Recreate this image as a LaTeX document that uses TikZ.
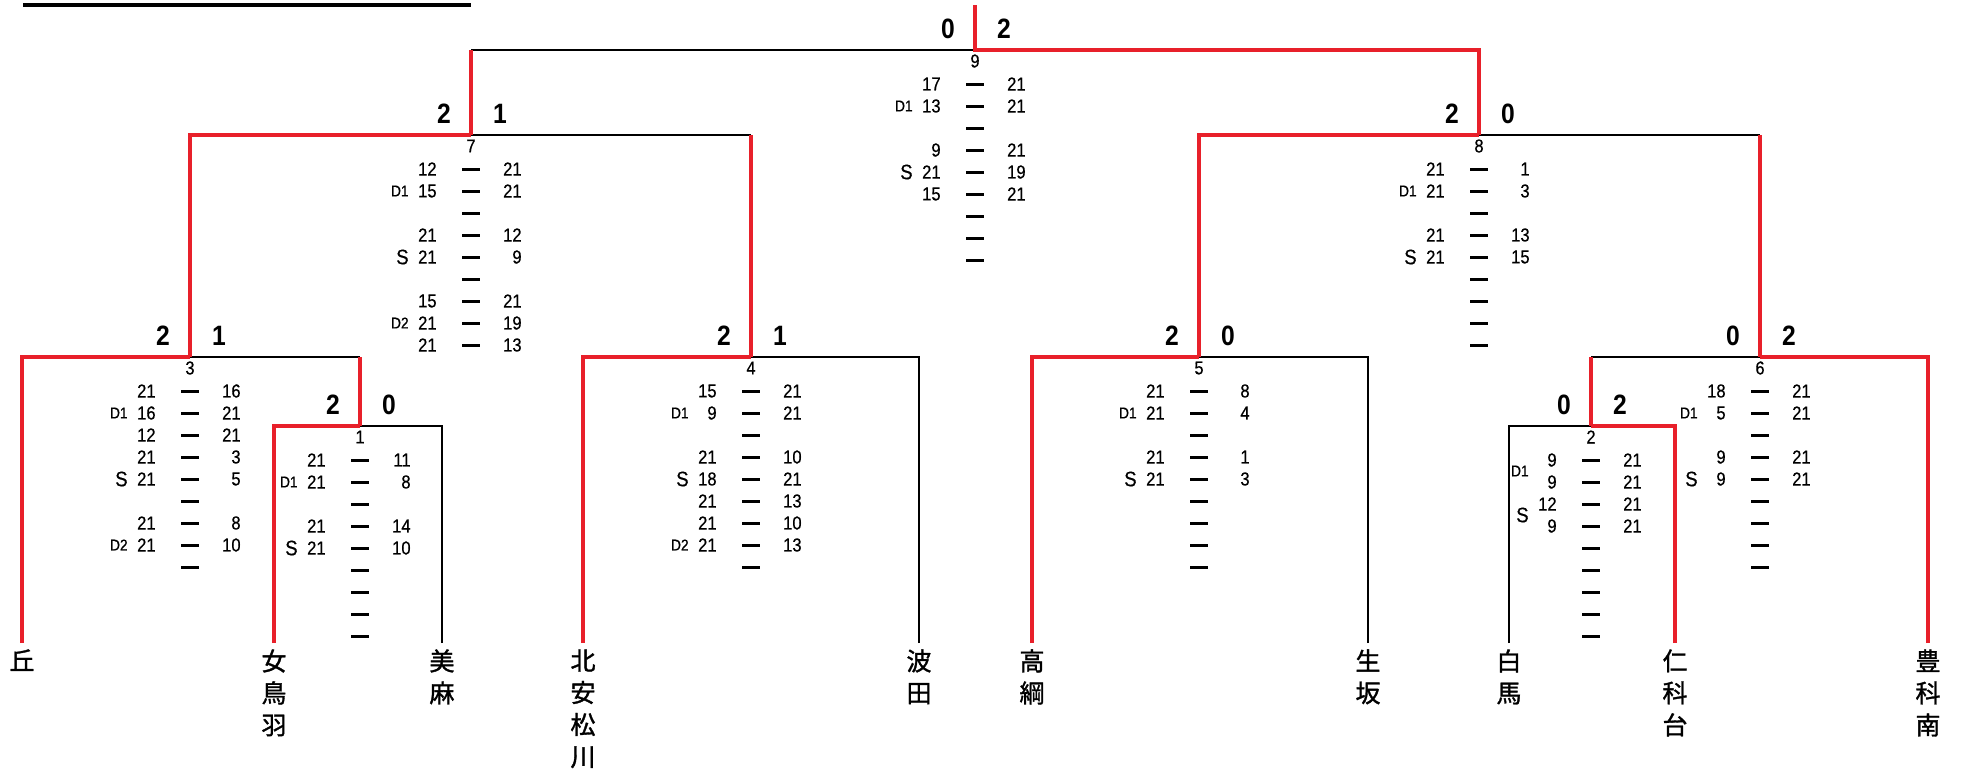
\documentclass[tikz,border=0pt]{standalone}
\usepackage{fontspec}
\setmainfont{Liberation Sans}[FakeStretch=0.88, UprightFeatures={FakeBold=0.6}]
\newfontfamily\namefont{Noto Sans CJK JP}[FakeBold=1.3]
\usetikzlibrary{calc}
\definecolor{winred}{RGB}{232,32,42}
\tikzset{
        win/.style={draw=winred, line width=1.6pt},  % winner's path
        lose/.style={draw=black, line width=0.8pt},
        rulebar/.style={draw=black, line width=1.6pt},
        team/.style={font=\namefont\fontsize{12.5}{16}\selectfont, align=center, anchor=north, inner xsep=0pt, inner ysep=3pt},
        sets/.style={font=\fontsize{14}{14}\selectfont\bfseries, inner sep=0pt},
        matchno/.style={font=\fontsize{9.3}{9.3}\selectfont, inner sep=0pt},
        pts/.style={font=\fontsize{9.4}{9.4}\selectfont, inner sep=0pt, anchor=east},
        kind/.style={inner sep=0pt, anchor=east},
        bar/.style={fill=black, inner sep=0pt, minimum width=9pt, minimum height=1.5pt}
        }
\newcommand{\dbl}[1]{{\fontsize{7.8}{7.8}\selectfont D#1}}
\newcommand{\sgl}{{\fontsize{10.5}{10.5}\selectfont S}}
% sets won left/right above a match
\newcommand{\result}[3]{%
  \node[sets] (#1w) at ($(#1)+(-27,-21)$) {#2};
  \node[sets] (#1e) at ($(#1)+(29,-21)$) {#3};}
% match number and game scores below a match
\newcommand{\games}[3]{%
  \node[matchno] (#1n) at ($(#1)+(0,11)$) {#2};
  \foreach \lab/\lft/\rgt [count=\r] in {#3}{
    \node[bar] (#1b\r) at ($(#1)+(0,12+22*\r)$) {};
    \node[pts] (#1l\r) at ($(#1b\r)+(-34,0)$) {\lft};
    \node[pts] (#1r\r) at ($(#1b\r)+(51,0)$) {\rgt};
    \node[kind] (#1k\r) at ($(#1b\r)+(-62,0)$) {\lab};
  }}

\begin{document}
\begin{tikzpicture}[x=0.5pt, y=-0.5pt]
        \useasboundingbox (0,0) rectangle (1963,776);
        \coordinate (ruleL) at (23,5);
        \coordinate (ruleR) at (471,5);
        \coordinate (top) at (975,5);
        \coordinate (m9) at (975,50);
        \coordinate (m7) at (471,135);
        \coordinate (m8) at (1479,135);
        \coordinate (m3) at (190,357);
        \coordinate (m4) at (751,357);
        \coordinate (m5) at (1199,357);
        \coordinate (m6) at (1760,357);
        \coordinate (m1) at (360,426);
        \coordinate (m2) at (1591,426);

        \node[team] (oka) at (22,643) {丘};
        \node[team] (medoba) at (274,643) {女\\鳥\\羽};
        \node[team] (omi) at (442,643) {美\\麻};
        \node[team] (kitaazumi) at (583,643) {北\\安\\松\\川};
        \node[team] (hata) at (919,643) {波\\田};
        \node[team] (takatsuna) at (1032,643) {高\\綱};
        \node[team] (ikusaka) at (1368,643) {生\\坂};
        \node[team] (hakuba) at (1509,643) {白\\馬};
        \node[team] (nishinadai) at (1675,643) {仁\\科\\台};
        \node[team] (toyoshina) at (1928,643) {豊\\科\\南};

        \draw[rulebar] (ruleL) -- (ruleR);

        % losing sides
        \draw[lose] (m9) -- (m7 |- m9);
        \draw[lose] (m7) -- (m4 |- m7);
        \draw[lose] (m8) -- (m6 |- m8);
        \draw[lose] (m3) -- (m1 |- m3);
        \draw[lose] (omi.north) |- (m1);
        \draw[lose] (hata.north) |- (m4);
        \draw[lose] (ikusaka.north) |- (m5);
        \draw[lose] (m6) -- (m2 |- m6);
        \draw[lose] (hakuba.north) |- (m2);

        % winning sides
        \draw[win] (top) -- (m9) -| (m8);
        \draw[win] (m7) -- (m7 |- m9);
        \draw[win] (m3) |- (m7);
        \draw[win] (m4) -- (m4 |- m7);
        \draw[win] (m5) |- (m8);
        \draw[win] (m6) -- (m6 |- m8);
        \draw[win] (oka.north) |- (m3);
        \draw[win] (m1) -- (m1 |- m3);
        \draw[win] (medoba.north) |- (m1);
        \draw[win] (kitaazumi.north) |- (m4);
        \draw[win] (takatsuna.north) |- (m5);
        \draw[win] (toyoshina.north) |- (m6);
        \draw[win] (m2) -- (m2 |- m6);
        \draw[win] (nishinadai.north) |- (m2);

        \result{m9}{0}{2}
        \result{m7}{2}{1}
        \result{m8}{2}{0}
        \result{m3}{2}{1}
        \result{m4}{2}{1}
        \result{m5}{2}{0}
        \result{m6}{0}{2}
        \result{m1}{2}{0}
        \result{m2}{0}{2}

        \games{m9}{9}{/17/21,\dbl1/13/21,//,/9/21,\sgl/21/19,/15/21,//,//,//}
        \games{m7}{7}{/12/21,\dbl1/15/21,//,/21/12,\sgl/21/9,//,/15/21,\dbl2/21/19,/21/13}
        \games{m8}{8}{/21/1,\dbl1/21/3,//,/21/13,\sgl/21/15,//,//,//,//}
        \games{m3}{3}{/21/16,\dbl1/16/21,/12/21,/21/3,\sgl/21/5,//,/21/8,\dbl2/21/10,//}
        \games{m4}{4}{/15/21,\dbl1/9/21,//,/21/10,\sgl/18/21,/21/13,/21/10,\dbl2/21/13,//}
        \games{m5}{5}{/21/8,\dbl1/21/4,//,/21/1,\sgl/21/3,//,//,//,//}
        \games{m6}{6}{/18/21,\dbl1/5/21,//,/9/21,\sgl/9/21,//,//,//,//}
        \games{m1}{1}{/21/11,\dbl1/21/8,//,/21/14,\sgl/21/10,//,//,//,//}
        \games{m2}{2}{/9/21,/9/21,/12/21,/9/21,//,//,//,//,//}
        \node[kind] (m2d) at ($(m2)+(-62,45)$) {\dbl1};
        \node[kind] (m2s) at ($(m2)+(-62,89)$) {\sgl};
\end{tikzpicture}
\end{document}
